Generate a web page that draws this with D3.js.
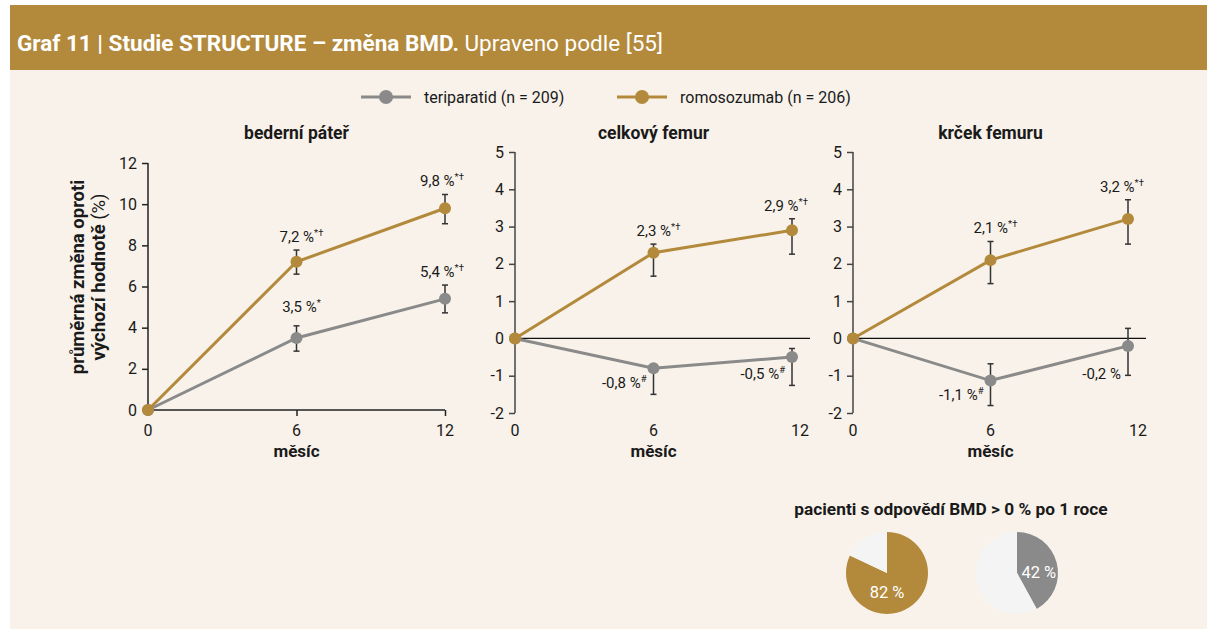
<!DOCTYPE html>
<html>
<head>
<meta charset="utf-8">
<script src="https://cdn.jsdelivr.net/npm/d3@7"></script>
<style>
  body { margin: 0; background: #fff; }
  svg { display: block; font-family: Roboto, "Noto Sans", sans-serif; }
</style>
</head>
<body>
<div id="viz"></div>
<script>
// data
var months = [0, 6, 12];
var seriesNames = ["teriparatid (n = 209)", "romosozumab (n = 206)"];

// bederní páteř
var spineTeri = [0, 3.5, 5.4],
    spineTeriLow = [null, 2.86, 4.72],
    spineTeriHigh = [null, 4.09, 6.07],
    spineTeriLabels = ["", "3,5 %", "5,4 %"],
    spineTeriSup = ["", "*", "*†"];
var spineRomo = [0, 7.2, 9.8],
    spineRomoLow = [null, 6.6, 9.05],
    spineRomoHigh = [null, 7.77, 10.47],
    spineRomoLabels = ["", "7,2 %", "9,8 %"],
    spineRomoSup = ["", "*†", "*†"];

// celkový femur
var hipTeri = [0, -0.8, -0.5],
    hipTeriLow = [null, -1.5, -1.26],
    hipTeriHigh = [null, -0.71, -0.27],
    hipTeriLabels = ["", "-0,8 %", "-0,5 %"],
    hipTeriSup = ["", "#", "#"];
var hipRomo = [0, 2.3, 2.9],
    hipRomoLow = [null, 1.67, 2.26],
    hipRomoHigh = [null, 2.53, 3.21],
    hipRomoLabels = ["", "2,3 %", "2,9 %"],
    hipRomoSup = ["", "*†", "*†"];

// krček femuru
var neckTeri = [0, -1.13, -0.2],
    neckTeriLow = [null, -1.8, -0.99],
    neckTeriHigh = [null, -0.68, 0.27],
    neckTeriLabels = ["", "-1,1 %", "-0,2 %"],
    neckTeriSup = ["", "#", ""];
var neckRomo = [0, 2.1, 3.2],
    neckRomoLow = [null, 1.47, 2.53],
    neckRomoHigh = [null, 2.6, 3.72],
    neckRomoLabels = ["", "2,1 %", "3,2 %"],
    neckRomoSup = ["", "*†", "*†"];

// responders after 1 year
var pieValues = [82, 42];
var pieLabels = ["82 %", "42 %"];

var gold = "#b3893c", grey = "#8a8a8a", cream = "#f8f2ea", text = "#1a1a1a";

var width = 1207, height = 629;
var svg = d3.select("#viz").append("svg")
  .attr("width", width)
  .attr("height", height);

// background + header band
svg.append("rect").attr("x", 10).attr("y", 5).attr("width", width - 10).attr("height", height - 5).attr("fill", cream);
svg.append("rect").attr("x", 10).attr("y", 5).attr("width", width - 10).attr("height", 65).attr("fill", gold);
var head = svg.append("text").attr("x", 17).attr("y", 51).attr("fill", "#fff").style("font-size", "22.5px");
head.append("tspan").attr("font-weight", "bold").text("Graf 11 | Studie STRUCTURE – změna BMD.");
head.append("tspan").text(" Upraveno podle [55]");

// legend
var legend = svg.append("g").attr("transform", "translate(0,97)");
[[361, grey, seriesNames[0]], [617, gold, seriesNames[1]]].forEach(function (l) {
  legend.append("line").attr("x1", l[0]).attr("x2", l[0] + 50).attr("stroke", l[1]).attr("stroke-width", 3);
  legend.append("circle").attr("cx", l[0] + 25).attr("r", 7).attr("fill", l[1]);
  legend.append("text").attr("x", l[0] + 63).attr("y", 6).attr("fill", text).style("font-size", "16px").text(l[2]);
});

function zip(v, lo, hi, lab, sup) {
  return months.map(function (m, i) {
    return {m: m, v: v[i], lo: lo[i], hi: hi[i], label: lab[i], sup: sup[i]};
  });
}

var panels = [
  {title: "bederní páteř", x: [148, 445], y: [410, 163], domain: [0, 12], tickStep: 2, zeroLine: false, lastDx: 0,
   teri: zip(spineTeri, spineTeriLow, spineTeriHigh, spineTeriLabels, spineTeriSup),
   romo: zip(spineRomo, spineRomoLow, spineRomoHigh, spineRomoLabels, spineRomoSup),
   teriPos: ["above", "above", "above"], teriDy: [0, -14, -8]},
  {title: "celkový femur", x: [515, 792], y: [413, 152], domain: [-2, 5], tickStep: 1, zeroLine: true, lastDx: 8,
   teri: zip(hipTeri, hipTeriLow, hipTeriHigh, hipTeriLabels, hipTeriSup),
   romo: zip(hipRomo, hipRomoLow, hipRomoHigh, hipRomoLabels, hipRomoSup),
   teriPos: ["left", "left", "left"], teriDy: [0, 20, 22]},
  {title: "krček femuru", x: [853, 1128], y: [413, 152], domain: [-2, 5], tickStep: 1, zeroLine: true, lastDx: 10,
   teri: zip(neckTeri, neckTeriLow, neckTeriHigh, neckTeriLabels, neckTeriSup),
   romo: zip(neckRomo, neckRomoLow, neckRomoHigh, neckRomoLabels, neckRomoSup),
   teriPos: ["left", "left", "left"], teriDy: [0, 19, 33]}
];

panels.forEach(function (p) {
  var xScale = d3.scaleLinear().domain([0, 12]).range(p.x),
      yScale = d3.scaleLinear().domain(p.domain).range(p.y);
  var g = svg.append("g");
  var axisColor = p.zeroLine ? "#444" : "#222";

  // title
  g.append("text").attr("x", (p.x[0] + p.x[1]) / 2).attr("y", 139)
    .attr("text-anchor", "middle").attr("font-weight", "bold").attr("fill", text)
    .style("font-size", "17.5px").text(p.title);

  // y axis
  var yAxis = d3.axisLeft(yScale)
    .tickValues(d3.range(p.domain[0], p.domain[1] + 0.01, p.tickStep))
    .tickFormat(function (d) { return String(Math.round(d)); })
    .tickSize(6).tickPadding(5);
  var ya = g.append("g").attr("transform", "translate(" + p.x[0] + ",0)").call(yAxis);
  ya.select(".domain").attr("stroke", axisColor).attr("stroke-width", 1.5).attr("d", "M0," + p.y[0] + "V" + p.y[1]);
  ya.selectAll(".tick line").attr("stroke", axisColor).attr("stroke-width", 1.5);
  ya.selectAll(".tick text").attr("fill", text).style("font-size", "16px").style("font-family", "Roboto");

  // x axis / zero line
  var baseY = p.zeroLine ? p.y[0] : yScale(0);
  if (p.zeroLine) {
    g.append("line").attr("x1", p.x[0]).attr("x2", p.x[1] + 18)
      .attr("y1", yScale(0)).attr("y2", yScale(0)).attr("stroke", "#111").attr("stroke-width", 1.2);
  } else {
    var xAxis = d3.axisBottom(xScale).tickValues(months).tickSize(6).tickPadding(4);
    var xa = g.append("g").attr("transform", "translate(0," + baseY + ")").call(xAxis);
    xa.select(".domain").attr("stroke", axisColor).attr("stroke-width", 1.5).attr("d", "M" + p.x[0] + ",0H" + p.x[1]);
    xa.selectAll(".tick line").attr("stroke", axisColor).attr("stroke-width", 1.5);
    xa.selectAll("text").remove();
  }
  g.selectAll(".xtick").data(months).enter().append("text")
    .attr("x", function (d, i) { return xScale(d) + (i === months.length - 1 ? p.lastDx : 0); })
    .attr("y", 436).attr("text-anchor", "middle").attr("fill", text)
    .style("font-size", "16px").text(function (d) { return d; });
  g.append("text").attr("x", (p.x[0] + p.x[1]) / 2).attr("y", 457)
    .attr("text-anchor", "middle").attr("font-weight", "bold").attr("fill", text)
    .style("font-size", "17px").text("měsíc");

  var line = d3.line().x(function (d) { return xScale(d.m); }).y(function (d) { return yScale(d.v); });

  [[p.teri, grey, "teri"], [p.romo, gold, "romo"]].forEach(function (s) {
    var data = s[0];
    g.append("path").datum(data).attr("fill", "none").attr("stroke", s[1]).attr("stroke-width", 3).attr("d", line);
    var eb = data.filter(function (d) { return d.lo !== null; });
    eb.forEach(function (d) {
      var cx = xScale(d.m);
      g.append("line").attr("x1", cx).attr("x2", cx).attr("y1", yScale(d.lo)).attr("y2", yScale(d.hi))
        .attr("stroke", "#333").attr("stroke-width", 1.5);
      [d.lo, d.hi].forEach(function (v) {
        g.append("line").attr("x1", cx - 3).attr("x2", cx + 3).attr("y1", yScale(v)).attr("y2", yScale(v))
          .attr("stroke", "#333").attr("stroke-width", 1.5);
      });
    });
    g.selectAll(".dot-" + s[2]).data(data).enter().append("circle")
      .attr("cx", function (d) { return xScale(d.m); })
      .attr("cy", function (d) { return yScale(d.v); })
      .attr("r", 6).attr("fill", s[1]);

    // value labels
    data.forEach(function (d, i) {
      if (!d.label) return;
      var cx = xScale(d.m), t;
      var pos = s[2] === "teri" ? p.teriPos[i] : "above";
      if (pos === "above") {
        var dy = s[2] === "teri" ? p.teriDy[i] : -8;
        var dx = i === 1 ? 5 : (p.lastDx ? -6 : -3);
        t = g.append("text").attr("x", cx + dx).attr("y", yScale(d.hi) + dy).attr("text-anchor", "middle");
      } else {
        t = g.append("text").attr("x", cx - 7).attr("y", yScale(d.v) + p.teriDy[i]).attr("text-anchor", "end");
      }
      t.attr("fill", text).style("font-size", "15px");
      t.append("tspan").text(d.label);
      if (d.sup) t.append("tspan").attr("dy", -6).style("font-size", "9.5px").text(d.sup);
    });
  });
});

// y axis title for first panel
var yt = svg.append("text").attr("transform", "translate(84,277) rotate(-90)")
  .attr("text-anchor", "middle").attr("fill", text).style("font-size", "18.5px");
yt.append("tspan").attr("x", 0).attr("font-weight", "bold").text("průměrná změna oproti");
var yt2 = yt.append("tspan").attr("x", 0).attr("dy", 21);
yt2.append("tspan").attr("font-weight", "bold").text("výchozí hodnotě");
yt2.append("tspan").text(" (%)");

// pies
svg.append("text").attr("x", 951).attr("y", 515).attr("text-anchor", "middle")
  .attr("font-weight", "bold").attr("fill", text).style("font-size", "17.3px")
  .text("pacienti s odpovědí BMD > 0 % po 1 roce");

var pie = d3.pie().sort(null);
var arc = d3.arc().innerRadius(0).outerRadius(41);
var pieCenters = [887, 1017];
var pieColors = [gold, grey];
pieValues.forEach(function (v, i) {
  var pg = svg.append("g").attr("transform", "translate(" + pieCenters[i] + ",573)");
  pg.selectAll("path").data(pie([v, 100 - v])).enter().append("path")
    .attr("d", arc).attr("fill", function (d, j) { return j === 0 ? pieColors[i] : "#f4f4f4"; });
  var c = arc.centroid(pie([v, 100 - v])[0]);
  pg.append("text").attr("x", i === 0 ? 0 : c[0] + 2).attr("y", i === 0 ? 25 : 5)
    .attr("text-anchor", "middle").attr("fill", "#fff").style("font-size", "16.5px").text(pieLabels[i]);
});
</script>
</body>
</html>
